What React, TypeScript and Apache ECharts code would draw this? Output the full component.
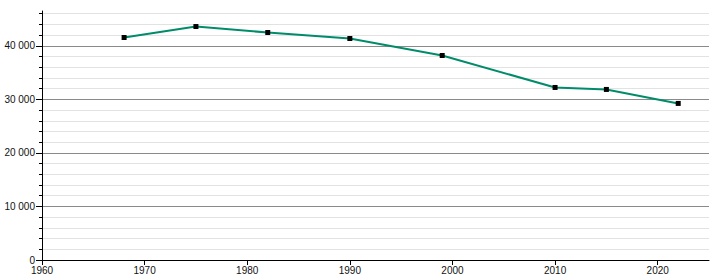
import React, { useEffect, useRef } from "react";
import * as echarts from "echarts";

const years = [1968, 1975, 1982, 1990, 1999, 2010, 2015, 2022];
const population = [41550, 43600, 42480, 41360, 38190, 32220, 31850, 29240];
const xTicks = [1960, 1970, 1980, 1990, 2000, 2010, 2020];
const yMajorTicks = [0, 10000, 20000, 30000, 40000];
const yMinorTicks = [
  0, 2000, 4000, 6000, 8000, 10000, 12000, 14000, 16000, 18000, 20000, 22000, 24000,
  26000, 28000, 30000, 32000, 34000, 36000, 38000, 40000, 42000, 44000, 46000,
];

const Y_MAX = 46500;
const fmt = (v: number) => String(v).replace(/\B(?=(\d{3})+(?!\d))/g, " ");

export default function App() {
  const ref = useRef<HTMLDivElement>(null);
  useEffect(() => {
    if (!ref.current) return;
    const chart = echarts.init(ref.current, undefined, { renderer: "svg" });
    const splitColors: string[] = [];
    for (let i = 0; i < 24; i++) splitColors.push(i % 5 === 0 ? "#8a8a8a" : "#e2e2e2");
    splitColors.push("rgba(0,0,0,0)");
    const font = "Liberation Sans, Arial, sans-serif";
    chart.setOption({
      animation: false,
      grid: { left: 42, right: 11, top: 11, bottom: 20, containLabel: false },
      xAxis: {
        type: "value",
        min: 1960,
        max: 2025,
        interval: 10,
        axisLine: { show: true, lineStyle: { color: "#000", width: 1 } },
        axisTick: { show: true, length: 5, lineStyle: { color: "#000" }, customValues: xTicks },
        axisLabel: {
          fontSize: 10,
          color: "#111",
          fontFamily: font,
          margin: 5,
          customValues: xTicks,
          formatter: (v: number) => String(v),
        },
        splitLine: { show: false },
      },
      yAxis: [
        {
          type: "value",
          min: 0,
          max: Y_MAX,
          interval: 2000,
          axisLine: { show: true, lineStyle: { color: "#000", width: 1 } },
          axisTick: { show: true, length: 3, lineStyle: { color: "#000" }, customValues: yMinorTicks },
          axisLabel: {
            fontSize: 10,
            color: "#111",
            fontFamily: font,
            margin: 7,
            customValues: yMajorTicks,
            formatter: (v: number) => fmt(v),
          },
          splitLine: { show: true, lineStyle: { color: splitColors, width: 1 } },
        },
        {
          type: "value",
          min: 0,
          max: Y_MAX,
          interval: 10000,
          position: "left",
          axisLine: { show: false },
          axisTick: { show: true, length: 6, lineStyle: { color: "#000" }, customValues: yMajorTicks },
          axisLabel: { show: false },
          splitLine: { show: false },
        },
      ],
      series: [
        {
          type: "line",
          data: years.map((y, i) => [y, population[i]]),
          yAxisIndex: 0,
          symbol: "rect",
          symbolSize: 5,
          itemStyle: { color: "#000" },
          lineStyle: { color: "#008c6a", width: 2 },
          z: 5,
        },
      ],
    });
    return () => chart.dispose();
  }, []);
  return <div ref={ref} style={{ width: 720, height: 280, position: "absolute", left: 0, top: 0 }} />;
}
